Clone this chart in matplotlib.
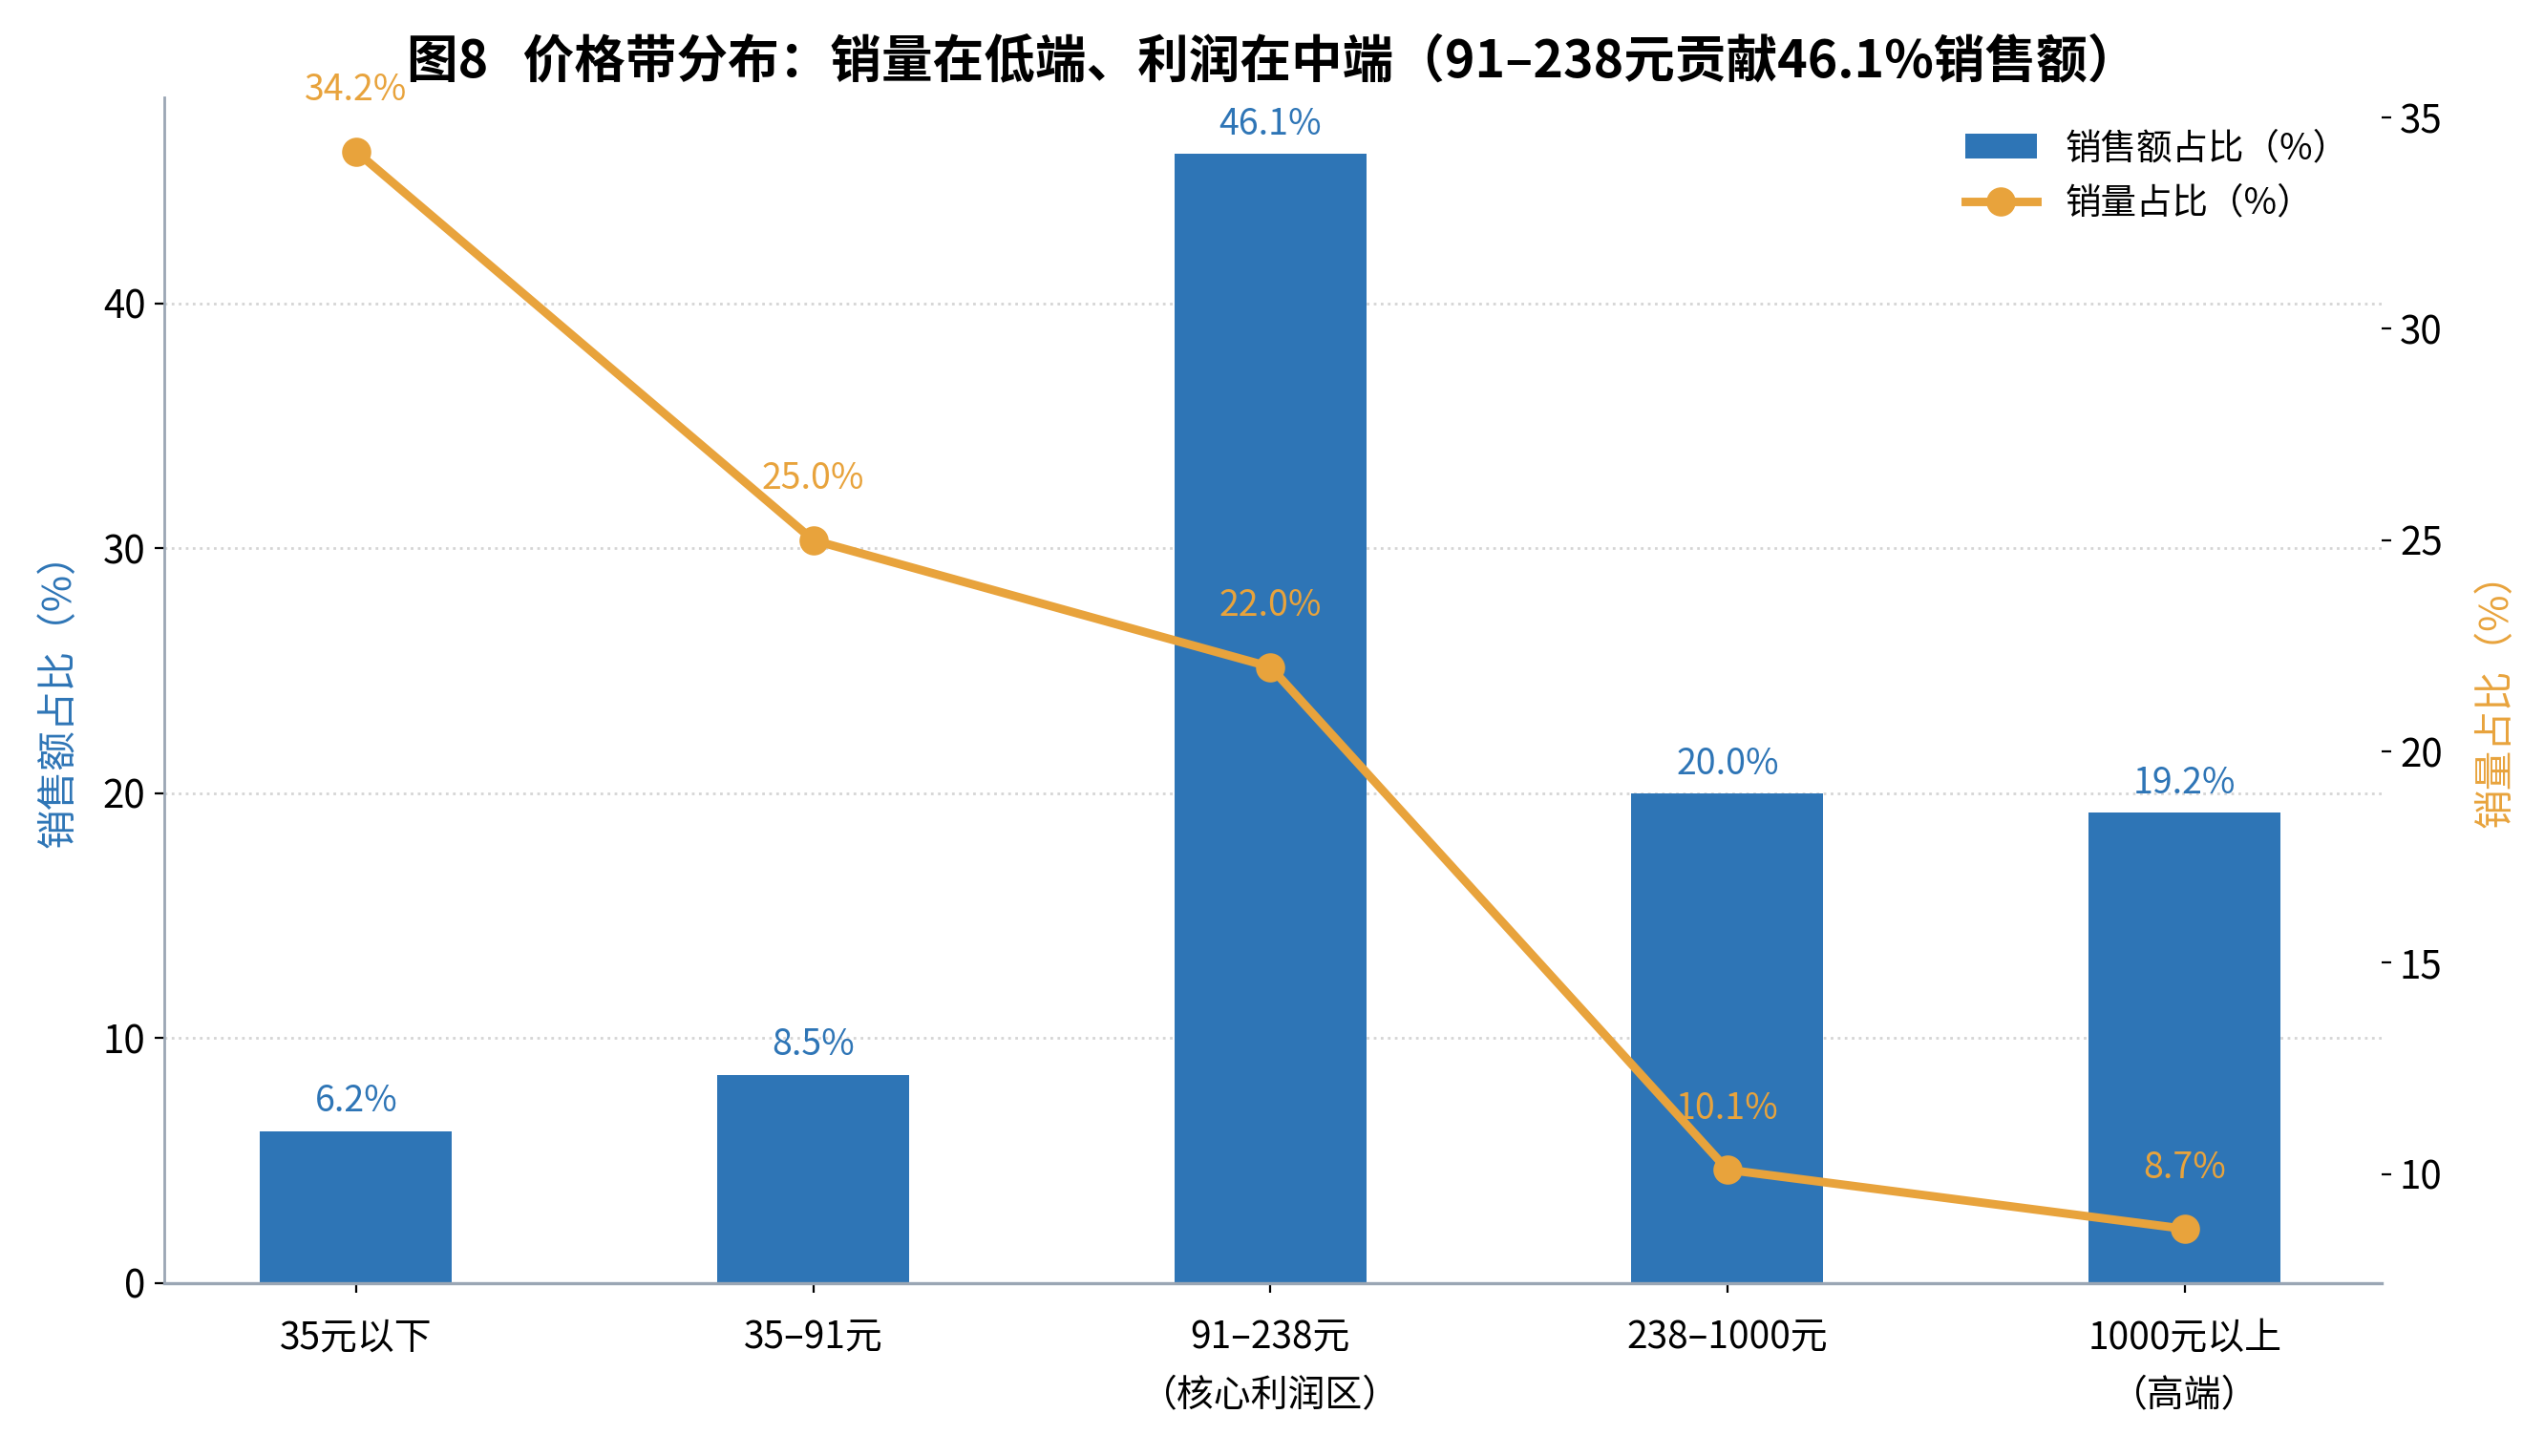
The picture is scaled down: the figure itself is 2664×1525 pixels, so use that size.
import matplotlib
matplotlib.use("Agg")
import matplotlib.pyplot as plt
from matplotlib.patches import Patch
from matplotlib.lines import Line2D

plt.rcParams['font.family'] = ['Noto Sans CJK SC', 'DejaVu Sans']
plt.rcParams['axes.unicode_minus'] = False

categories = ["35元以下", "35–91元", "91–238元\n（核心利润区）", "238–1000元", "1000元以上\n（高端）"]
sales_share = [6.2, 8.5, 46.1, 20.0, 19.2]
volume_share = [34.2, 25.0, 22.0, 10.1, 8.7]

title = "图8   价格带分布：销量在低端、利润在中端（91–238元贡献46.1%销售额）"
bar_label = "销售额占比（%）"
line_label = "销量占比（%）"

BLUE = "#2E75B6"
ORANGE = "#E8A33C"
SPINE = "#9AA6B4"

fig = plt.figure(figsize=(13.32, 7.625), dpi=200)
ax = fig.add_axes([0.0645, 0.119, 0.8715, 0.814])
ax2 = ax.twinx()

x = list(range(len(categories)))
ax.bar(x, sales_share, width=0.42, color=BLUE, zorder=2)
ax.set_ylim(0, max(sales_share) * 1.05)
ax.set_xlim(-0.42, len(categories) - 1 + 0.43)
ax.set_xticks(x)
ax.set_xticklabels(categories, fontsize=14, linespacing=1.7)
ax.tick_params(axis='x', pad=10)
ax.set_yticks([0, 10, 20, 30, 40])
ax.tick_params(axis='y', labelsize=14.5)
ax.grid(axis='y', linestyle=':', color='#D5D5D5', linewidth=1.0, zorder=0)
ax.set_axisbelow(True)
ax.set_ylabel(bar_label, color=BLUE, fontsize=15, labelpad=9)

for xi, v in zip(x, sales_share):
    ax.annotate(f"{v:.1f}%", (xi, v), xytext=(0, 4), textcoords='offset points',
                ha='center', va='bottom', color=BLUE, fontsize=13.5)

ax2.plot(x, volume_share, color=ORANGE, linewidth=3.2, marker='o', markersize=10, zorder=3)
ax2.set_yticks([10, 15, 20, 25, 30, 35])
ax2.tick_params(axis='y', labelsize=14.5)
ax2.set_ylabel(line_label, color=ORANGE, fontsize=15, labelpad=13)
for xi, v in zip(x, volume_share):
    ax2.annotate(f"{v:.1f}%", (xi, v), xytext=(0, 16), textcoords='offset points',
                 ha='center', va='bottom', color=ORANGE, fontsize=13.5, annotation_clip=False)

for a in (ax, ax2):
    a.spines['top'].set_visible(False)
    a.spines['right'].set_visible(False)
ax2.spines['left'].set_visible(False)
ax2.spines['bottom'].set_visible(False)
ax.spines['left'].set_color(SPINE)
ax.spines['left'].set_linewidth(1.0)
ax.spines['bottom'].set_color(SPINE)
ax.spines['bottom'].set_linewidth(1.2)

ax.set_title(title, fontsize=19.3, fontweight='bold', pad=8)

handles = [Patch(facecolor=BLUE, label=bar_label),
           Line2D([0], [0], color=ORANGE, linewidth=3.2, marker='o', markersize=10, label=line_label)]
ax2.legend(handles=handles, loc='upper right', frameon=False, fontsize=13.5)

fig.savefig("out.png", dpi=200)
